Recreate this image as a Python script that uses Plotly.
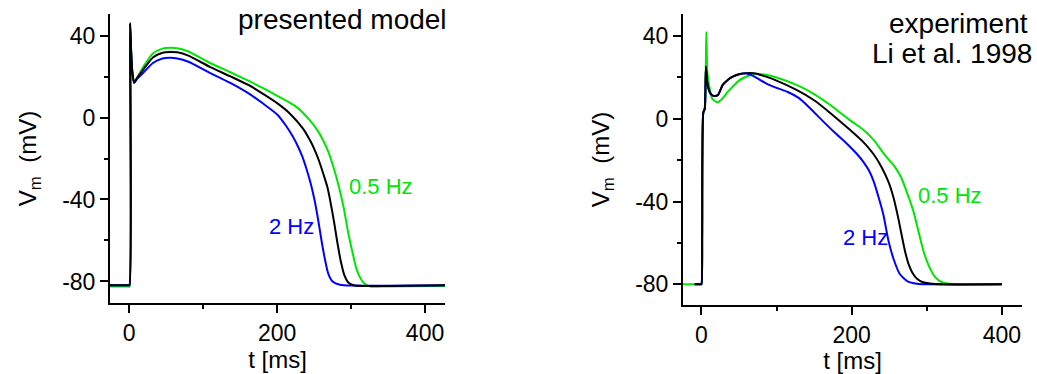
import plotly.graph_objects as go

# ---------------- data: presented model ----------------
model_green_t = [-30, -1, 0.3, 1.2, 2.5, 4, 6.5, 10, 19, 32, 45, 55, 65, 80, 109, 136, 163, 181, 200, 226, 244, 255, 262, 269, 276, 283, 290, 296, 302, 307, 312, 318, 326, 340, 427]
model_green_v = [-82.5, -82.5, -82.5, 46, 33, 23, 17, 19, 24.7, 31.2, 33.6, 34, 33.8, 32.2, 26.6, 22.2, 17.6, 14.3, 10.6, 5.2, -1.3, -6.5, -11, -16.5, -24, -33, -44, -56, -66, -73.5, -78, -81, -82.5, -82.5, -82.2]

model_black_t = [-26, -1, 0.3, 1.2, 2.5, 4, 6.5, 10, 19, 32, 45, 55, 65, 80, 109, 136, 163, 181, 200, 217, 235, 245, 251, 256, 264.5, 268, 271.5, 277, 281, 286, 291, 297, 305, 320, 427]
model_black_v = [-81.8, -81.8, -81.8, 46, 33, 23, 17, 19, 23.4, 29.3, 31.6, 32, 31.8, 30.2, 24.7, 20.2, 15.5, 11.5, 7, 2, -5.4, -11.5, -16, -20.5, -29.8, -34, -40, -51, -60, -70, -77, -80.8, -82, -82.2, -81.8]

model_blue_t = [-26, -1, 0.3, 1.2, 2.5, 4, 6.5, 10, 19, 32, 45, 55, 65, 80, 109, 136, 163, 181, 200, 212, 221.6, 228, 234, 240, 246, 251, 255.5, 260, 264, 269, 275, 285, 300, 427]
model_blue_v = [-81.8, -81.8, -81.8, 46, 33, 23, 17, 18.5, 21.8, 26.6, 28.8, 29.1, 28.8, 27.2, 21.8, 17, 11.4, 6.8, 1.5, -4, -9.5, -14, -19, -25.5, -33, -41, -50, -60, -68, -76, -80, -81.6, -82, -81.8]

# ---------------- data: experiment (Li et al. 1998) ----------------
exp_green_t = [-40, -1, 0, 1, 2.5, 4.5, 6.5, 8, 10.6, 14, 21, 28.4, 35, 41.7, 50, 60, 70, 86, 100, 126.6, 150, 171, 197, 215.5, 230, 244, 257, 266, 274, 282, 290, 296, 302, 310, 320, 335, 400]
exp_green_v = [-80, -80, -80, -56, 3, 5, 42, 22, 15.6, 10, 8, 10, 13, 15.6, 18.5, 20.5, 21.6, 21.3, 20, 16.4, 12, 6.8, -0.5, -5.3, -10.5, -17.4, -23, -28.5, -36, -44.5, -56, -64.5, -70.5, -76, -79, -80, -80]

exp_blue_t = [-9, -1, 0, 1, 2.5, 4.5, 6, 8, 11, 14, 18, 22, 28.4, 35, 41.7, 50, 59, 70, 86, 100, 115, 130, 145, 160, 177, 195, 207, 216, 223, 229, 235.5, 242, 249, 256, 264, 275, 287, 300, 400]
exp_blue_v = [-80, -80, -80, -56, 3, 5, 25, 17, 13, 11.5, 11, 11.5, 16.4, 18.8, 20.4, 21.6, 22, 20.5, 17.2, 15, 13, 10, 5, -0.5, -6.5, -12.5, -17, -21, -25, -30, -37.5, -46, -59, -68, -75, -78.7, -79.7, -80, -80]

exp_black_t = [-9, -1, 0, 1, 2.5, 4.5, 6, 8, 11, 14, 18, 22, 28.4, 35, 41.7, 50, 60, 70, 86, 100, 126.6, 150, 171, 197.7, 215, 229, 240, 249, 256, 262, 267, 271, 276, 281, 287, 295, 304, 320, 400]
exp_black_v = [-80, -80, -80, -56, 3, 5, 25.3, 17, 13, 11.5, 11, 11.5, 16.4, 18.8, 20.4, 21.6, 22.1, 22, 20.4, 18.5, 14, 9, 3, -5.3, -11, -17, -23.5, -30.5, -38.5, -48, -57, -64, -70.5, -74.5, -77.3, -79, -79.6, -80, -80]

x_ticks = [0, 200, 400]
y_ticks = [-80, -40, 0, 40]

GREEN = "#00e600"
BLUE = "#0000ff"
BLACK = "#000000"
FONT = "Liberation Sans, Arial, sans-serif"

W, H = 1037, 374

def px_x(p):
    return p / W

def px_y(p):
    return 1 - p / H

fig = go.Figure()

def add(t, v, color, xa, ya):
    fig.add_trace(go.Scatter(x=t, y=v, mode="lines",
                             line=dict(color=color, width=2, shape="spline", smoothing=0.6),
                             xaxis=xa, yaxis=ya, showlegend=False, hoverinfo="skip"))

add(model_green_t, model_green_v, GREEN, "x", "y")
add(model_blue_t, model_blue_v, BLUE, "x", "y")
add(model_black_t, model_black_v, BLACK, "x", "y")
add(exp_green_t, exp_green_v, GREEN, "x2", "y2")
add(exp_blue_t, exp_blue_v, BLUE, "x2", "y2")
add(exp_black_t, exp_black_v, BLACK, "x2", "y2")

TICK_SIZE = 23
TITLE_SIZE = 24

def xaxis(domain, rng, anchor):
    return dict(domain=domain, range=rng, tickvals=x_ticks, ticks="outside", ticklen=8, tickwidth=2,
                anchor=anchor, tickcolor="black", showline=True, linecolor="black", linewidth=2,
                zeroline=False, showgrid=False, tickfont=dict(family=FONT, size=TICK_SIZE, color="black"),
                minor=dict(dtick=100, tick0=0, ticks="outside", ticklen=4, tickwidth=2, tickcolor="black"),
                title=dict(text="t [ms]", font=dict(family=FONT, size=TITLE_SIZE, color="black"), standoff=4))

def yaxis(domain, rng, anchor):
    return dict(domain=domain, range=rng, tickvals=y_ticks, ticktext=[str(v) for v in y_ticks],
                ticks="outside", ticklen=8, tickwidth=2, anchor=anchor,
                tickcolor="black", showline=True, linecolor="black", linewidth=2, zeroline=False,
                showgrid=False, tickfont=dict(family=FONT, size=TICK_SIZE, color="black"),
                minor=dict(dtick=20, tick0=0, ticks="outside", ticklen=4, tickwidth=2, tickcolor="black"),
                title=dict(text="V<sub>m</sub>  (mV)", font=dict(family=FONT, size=TITLE_SIZE, color="black"), standoff=19))

fig.update_layout(
    width=W, height=H, margin=dict(l=0, r=0, t=0, b=0),
    paper_bgcolor="white", plot_bgcolor="white",
    xaxis=xaxis([px_x(110), px_x(445)], [-26, 427], "y"),
    yaxis=yaxis([px_y(303), px_y(14)], [-90.5, 50.5], "x"),
    xaxis2=xaxis([px_x(683), px_x(1022)], [-24.5, 426.7], "y2"),
    yaxis2=yaxis([px_y(305), px_y(14)], [-90, 50.7], "x2"),
)

def ann(text, x, y, color, xanchor, size):
    fig.add_annotation(text=text, x=px_x(x), y=px_y(y), xref="paper", yref="paper", showarrow=False,
                       xanchor=xanchor, yanchor="middle", borderpad=0,
                       font=dict(family=FONT, size=size, color=color))

ann("presented model", 448, 20, BLACK, "right", 28)
ann("0.5 Hz", 348, 186, GREEN, "left", 22)
ann("2 Hz", 268, 226, BLUE, "left", 22)
ann("experiment", 1029, 23, BLACK, "right", 28)
ann("Li et al. 1998", 1033, 53, BLACK, "right", 28)
ann("0.5 Hz", 917, 195, GREEN, "left", 22)
ann("2 Hz", 842, 237, BLUE, "left", 22)

fig.write_html("out.html")
